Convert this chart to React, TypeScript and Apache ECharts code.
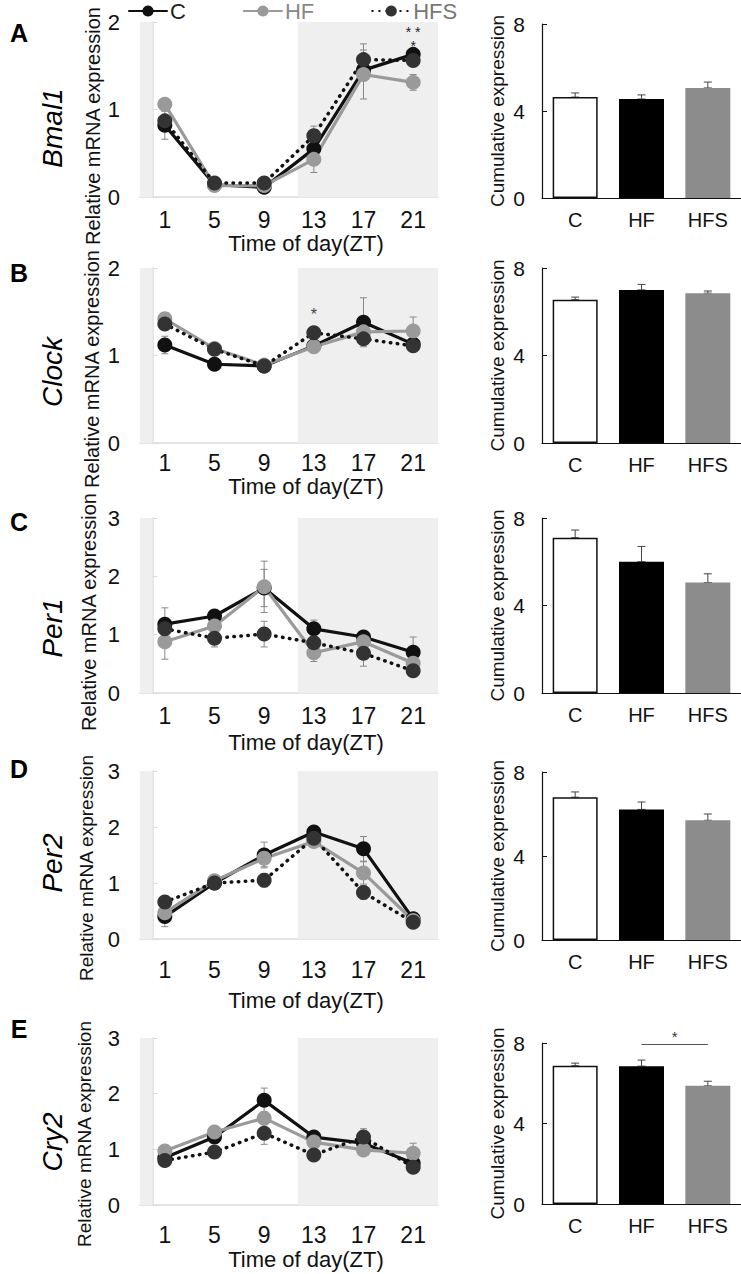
import React, { useEffect, useRef } from 'react';
import * as echarts from 'echarts';

// ---------- data ----------
const ZT = [1, 5, 9, 13, 17, 21];
const GROUPS = ['C', 'HF', 'HFS'];
const GENES = ['Bmal1', 'Clock', 'Per1', 'Per2', 'Cry2'];
const PANELS = ['A', 'B', 'C', 'D', 'E'];
const Y_MAX = [2, 2, 3, 3, 3];
const ZT_MIN = -1;
const ZT_MAX = 23;
const PREV_DARK_END = 0;
const DARK_START = 11.7;
const XTICKS = [1, 5, 9, 13, 17, 21];

const bmal1C = [0.82, 0.14, 0.11, 0.55, 1.45, 1.63];
const bmal1HF = [1.06, 0.13, 0.13, 0.43, 1.40, 1.31];
const bmal1HFS = [0.87, 0.16, 0.16, 0.70, 1.57, 1.56];
const bmal1CErr = [0.16, 0.02, 0.02, 0.08, 0.12, 0.05];
const bmal1HFErr = [0.05, 0.02, 0.02, 0.15, 0.28, 0.09];
const bmal1HFSErr = [0.06, 0.02, 0.02, 0.11, 0.18, 0.05];

const clockC = [1.12, 0.90, 0.88, 1.11, 1.38, 1.13];
const clockHF = [1.42, 1.08, 0.89, 1.10, 1.27, 1.28];
const clockHFS = [1.36, 1.07, 0.88, 1.26, 1.19, 1.11];
const clockCErr = [0.10, 0.06, 0.03, 0.05, 0.28, 0.04];
const clockHFErr = [0.07, 0.05, 0.03, 0.04, 0.06, 0.16];
const clockHFSErr = [0.05, 0.05, 0.03, 0.04, 0.06, 0.04];

const per1C = [1.18, 1.32, 1.80, 1.10, 0.96, 0.70];
const per1HF = [0.88, 1.15, 1.82, 0.69, 0.88, 0.51];
const per1HFS = [1.10, 0.94, 1.01, 0.86, 0.68, 0.38];
const per1CErr = [0.28, 0.05, 0.32, 0.15, 0.05, 0.26];
const per1HFErr = [0.30, 0.10, 0.44, 0.15, 0.10, 0.12];
const per1HFSErr = [0.10, 0.15, 0.22, 0.10, 0.22, 0.08];

const per2C = [0.40, 1.00, 1.50, 1.91, 1.61, 0.36];
const per2HF = [0.47, 1.04, 1.44, 1.74, 1.18, 0.33];
const per2HFS = [0.66, 1.00, 1.05, 1.80, 0.83, 0.30];
const per2CErr = [0.18, 0.05, 0.23, 0.05, 0.22, 0.05];
const per2HFErr = [0.10, 0.05, 0.15, 0.06, 0.20, 0.04];
const per2HFSErr = [0.08, 0.05, 0.12, 0.06, 0.12, 0.04];

const cry2C = [0.85, 1.22, 1.88, 1.22, 1.11, 0.75];
const cry2HF = [0.97, 1.31, 1.56, 1.13, 0.99, 0.93];
const cry2HFS = [0.80, 0.95, 1.29, 0.90, 1.22, 0.68];
const cry2CErr = [0.05, 0.06, 0.22, 0.06, 0.06, 0.05];
const cry2HFErr = [0.05, 0.06, 0.12, 0.05, 0.05, 0.18];
const cry2HFSErr = [0.05, 0.05, 0.20, 0.05, 0.15, 0.06];

const cumC = [4.64, 6.55, 7.10, 6.80, 6.87];
const cumHF = [4.55, 7.00, 6.00, 6.22, 6.85];
const cumHFS = [5.06, 6.85, 5.05, 5.70, 5.87];
const cumCErr = [0.19, 0.12, 0.35, 0.25, 0.13];
const cumHFErr = [0.19, 0.25, 0.70, 0.35, 0.30];
const cumHFSErr = [0.27, 0.10, 0.40, 0.30, 0.23];

// ---------- assembly ----------
const LINE_MEANS: Record<string, number[][]> = {
  C: [bmal1C, clockC, per1C, per2C, cry2C],
  HF: [bmal1HF, clockHF, per1HF, per2HF, cry2HF],
  HFS: [bmal1HFS, clockHFS, per1HFS, per2HFS, cry2HFS],
};
const LINE_ERRS: Record<string, number[][]> = {
  C: [bmal1CErr, clockCErr, per1CErr, per2CErr, cry2CErr],
  HF: [bmal1HFErr, clockHFErr, per1HFErr, per2HFErr, cry2HFErr],
  HFS: [bmal1HFSErr, clockHFSErr, per1HFSErr, per2HFSErr, cry2HFSErr],
};
const CUM = [cumC, cumHF, cumHFS];
const CUM_ERR = [cumCErr, cumHFErr, cumHFSErr];

// layout
const FONT = "'Liberation Sans', Arial, Helvetica, sans-serif";
const LINE_TOP = [22, 268, 518, 771, 1038];
const LINE_H = [175, 175, 175, 168, 167];
const BAR_TOP = [24, 268, 518, 772, 1043];
const BAR_H = [174, 175, 175, 168, 161];
const XLAB_MARGIN = [11, 8, 11, 19, 18];
const XNAME_Y = [243, 486, 742, 1000, 1259];
const LETTER_Y = [33, 273, 522, 769, 1029];
const GENE_Y = [128, 372, 628, 863, 1142];
const YNAME_X = [93, 92, 89, 86, 84];
const YNAME_Y = [126, 369, 612, 868, 1134];
const YNAME_SIZE = [20, 20, 20, 19, 19];

const LINE_STYLE: Record<string, any> = {
  C: { line: '#111', marker: '#111', type: 'solid' },
  HF: { line: '#9a9a9a', marker: '#9a9a9a', type: 'solid' },
  HFS: { line: '#111', marker: '#333', type: [0.5, 6.5] },
};

function errRender(cap: number, color: string) {
  return (params: any, api: any) => {
    const x = api.value(0);
    const lo = api.value(1);
    const hi = api.value(2);
    const p1 = api.coord([x, hi]);
    const p0 = api.coord([x, lo]);
    const st = { stroke: color, lineWidth: 1 };
    return {
      type: 'group',
      children: [
        { type: 'line', shape: { x1: p1[0], y1: p1[1], x2: p0[0], y2: p0[1] }, style: st },
        { type: 'line', shape: { x1: p1[0] - cap, y1: p1[1], x2: p1[0] + cap, y2: p1[1] }, style: st },
        { type: 'line', shape: { x1: p0[0] - cap, y1: p0[1], x2: p0[0] + cap, y2: p0[1] }, style: st },
      ],
    };
  };
}

function buildOption() {
  const grid: any[] = [];
  const xAxis: any[] = [];
  const yAxis: any[] = [];
  const series: any[] = [];
  const graphic: any[] = [];

  GENES.forEach((gene, r) => {
    const gi = r * 2;
    const bi = r * 2 + 1;
    grid.push({ left: 140, width: 298, top: LINE_TOP[r], height: LINE_H[r] });
    grid.push({ left: 542, right: 0, top: BAR_TOP[r], height: BAR_H[r] });

    xAxis.push({
      type: 'value', gridIndex: gi, min: ZT_MIN, max: ZT_MAX,
      axisLine: { show: true, lineStyle: { color: '#dcdcdc', width: 1.5 } },
      axisTick: { show: false },
      splitLine: { show: false },
      axisLabel: { customValues: XTICKS, fontSize: 23, color: '#111', fontFamily: FONT, margin: XLAB_MARGIN[r] },
    });
    yAxis.push({
      type: 'value', gridIndex: gi, min: 0, max: Y_MAX[r], interval: 1,
      axisLine: { show: true, lineStyle: { color: '#dcdcdc', width: 1.5 } },
      axisTick: { show: true, inside: true, length: 5, lineStyle: { color: '#dcdcdc' } },
      splitLine: { show: false },
      axisLabel: { fontSize: 22, color: '#111', fontFamily: FONT, margin: 20 },
    });
    xAxis.push({
      type: 'category', gridIndex: bi, data: GROUPS,
      axisLine: { show: true, lineStyle: { color: '#111', width: 1.2 } },
      axisTick: { show: false },
      axisLabel: { fontSize: 20, color: '#111', fontFamily: FONT, margin: 12 },
    });
    yAxis.push({
      type: 'value', gridIndex: bi, min: 0, max: 8, interval: 4,
      axisLine: { show: true, lineStyle: { color: '#111', width: 1.2 } },
      axisTick: { show: true, inside: true, length: 5, lineStyle: { color: '#111' } },
      splitLine: { show: false },
      axisLabel: { fontSize: 21, color: '#111', fontFamily: FONT, margin: 17 },
    });

    // shading
    series.push({
      type: 'line', xAxisIndex: gi, yAxisIndex: gi, data: [], z: 0, silent: true,
      markArea: {
        silent: true,
        itemStyle: { color: '#efefef' },
        data: [
          [{ xAxis: ZT_MIN }, { xAxis: PREV_DARK_END }],
          [{ xAxis: DARK_START }, { xAxis: ZT_MAX }],
        ],
      },
    });

    // error bars
    GROUPS.forEach((g) => {
      series.push({
        type: 'custom', xAxisIndex: gi, yAxisIndex: gi, z: 1, silent: true,
        renderItem: errRender(3.5, '#888'),
        encode: { x: 0, y: [1, 2] },
        data: ZT.map((z, k) => [z, LINE_MEANS[g][r][k] - LINE_ERRS[g][r][k], LINE_MEANS[g][r][k] + LINE_ERRS[g][r][k]]),
      });
    });

    // lines
    GROUPS.forEach((g) => {
      const s = LINE_STYLE[g];
      const ser: any = {
        name: g, type: 'line', xAxisIndex: gi, yAxisIndex: gi, z: 3,
        data: ZT.map((z, k) => [z, LINE_MEANS[g][r][k]]),
        symbol: 'circle', symbolSize: 15,
        itemStyle: { color: s.marker },
        lineStyle: { color: s.line, width: g === 'HFS' ? 3.5 : 3.2, type: s.type, cap: 'round' },
        emphasis: { disabled: true },
      };
      if (r === 0 && g === 'HFS') {
        ser.markPoint = {
          symbol: 'circle', symbolSize: 1, itemStyle: { color: 'rgba(0,0,0,0)' },
          label: { show: true, position: 'inside', color: '#222', fontSize: 14, fontFamily: FONT },
          data: [
            { coord: [21, 1.89], value: 0, label: { formatter: '* *' } },
            { coord: [21, 1.73], value: 0, label: { formatter: '*' } },
          ],
        };
      }
      if (r === 1 && g === 'HFS') {
        ser.markPoint = {
          symbol: 'circle', symbolSize: 1, itemStyle: { color: 'rgba(0,0,0,0)' },
          label: { show: true, position: 'inside', color: '#444', fontSize: 16, fontFamily: FONT },
          data: [{ coord: [13, 1.47], value: 0, label: { formatter: '*' } }],
        };
      }
      series.push(ser);
    });

    // bars
    series.push({
      type: 'bar', xAxisIndex: bi, yAxisIndex: bi, barWidth: 45, z: 2,
      data: CUM.map((arr, k) => ({
        value: arr[r],
        itemStyle: k === 0
          ? { color: '#fff', borderColor: '#111', borderWidth: 1.5 }
          : { color: k === 1 ? '#000' : '#8c8c8c' },
      })),
      emphasis: { disabled: true },
      markLine: r === 4 ? {
        silent: true, symbol: ['none', 'none'],
        lineStyle: { color: '#555', width: 1, type: 'solid' },
        label: { show: true, position: 'middle', formatter: '*', color: '#333', fontSize: 15, fontFamily: FONT, distance: 0 },
        data: [[{ coord: [0.85, 7.95] }, { coord: [1.8, 7.95] }]],
      } : undefined,
    });
    series.push({
      type: 'custom', xAxisIndex: bi, yAxisIndex: bi, z: 1, silent: true,
      renderItem: errRender(4, '#444'),
      encode: { x: 0, y: [1, 2] },
      data: CUM.map((arr, k) => [k, arr[r], arr[r] + CUM_ERR[k][r]]),
    });

    // texts
    graphic.push({
      type: 'text', x: 19, y: LETTER_Y[r],
      style: { text: PANELS[r], font: `bold 25px ${FONT}`, fill: '#000', align: 'center', verticalAlign: 'middle' },
    });
    graphic.push({
      type: 'text', x: 52, y: GENE_Y[r], rotation: Math.PI / 2,
      style: { text: gene, font: `italic 28px ${FONT}`, fill: '#000', align: 'center', verticalAlign: 'middle' },
    });
    graphic.push({
      type: 'text', x: YNAME_X[r], y: YNAME_Y[r], rotation: Math.PI / 2,
      style: { text: 'Relative mRNA expression', font: `${YNAME_SIZE[r]}px ${FONT}`, fill: '#111', align: 'center', verticalAlign: 'middle' },
    });
    graphic.push({
      type: 'text', x: 306, y: XNAME_Y[r],
      style: { text: 'Time of day(ZT)', font: `22px ${FONT}`, fill: '#111', align: 'center', verticalAlign: 'middle' },
    });
    graphic.push({
      type: 'text', x: 497, y: BAR_TOP[r] + BAR_H[r] / 2,
      rotation: Math.PI / 2,
      style: { text: 'Cumulative expression', font: `19px ${FONT}`, fill: '#111', align: 'center', verticalAlign: 'middle' },
    });
  });

  return {
    animation: false,
    backgroundColor: '#fff',
    textStyle: { fontFamily: FONT },
    legend: {
      left: 128, top: 0, padding: 0,
      itemWidth: 38, itemHeight: 14, itemGap: 57,
      textStyle: { fontSize: 22, fontFamily: FONT, padding: [0, 0, 0, -2], lineHeight: 20 },
      selectedMode: false,
      data: [
        { name: 'C', textStyle: { color: '#222' } },
        { name: 'HF', textStyle: { color: '#888' } },
        { name: 'HFS', textStyle: { color: '#777' } },
      ],
    },
    grid, xAxis, yAxis, series, graphic,
  };
}

export default function App() {
  const ref = useRef<HTMLDivElement>(null);
  useEffect(() => {
    if (!ref.current) return;
    const chart = echarts.init(ref.current, undefined, { renderer: 'svg' });
    chart.setOption(buildOption() as any);
    return () => chart.dispose();
  }, []);
  return (
    <div
      ref={ref}
      style={{ position: 'absolute', left: 0, top: 0, width: 741, height: 1274, background: '#fff' }}
    />
  );
}
